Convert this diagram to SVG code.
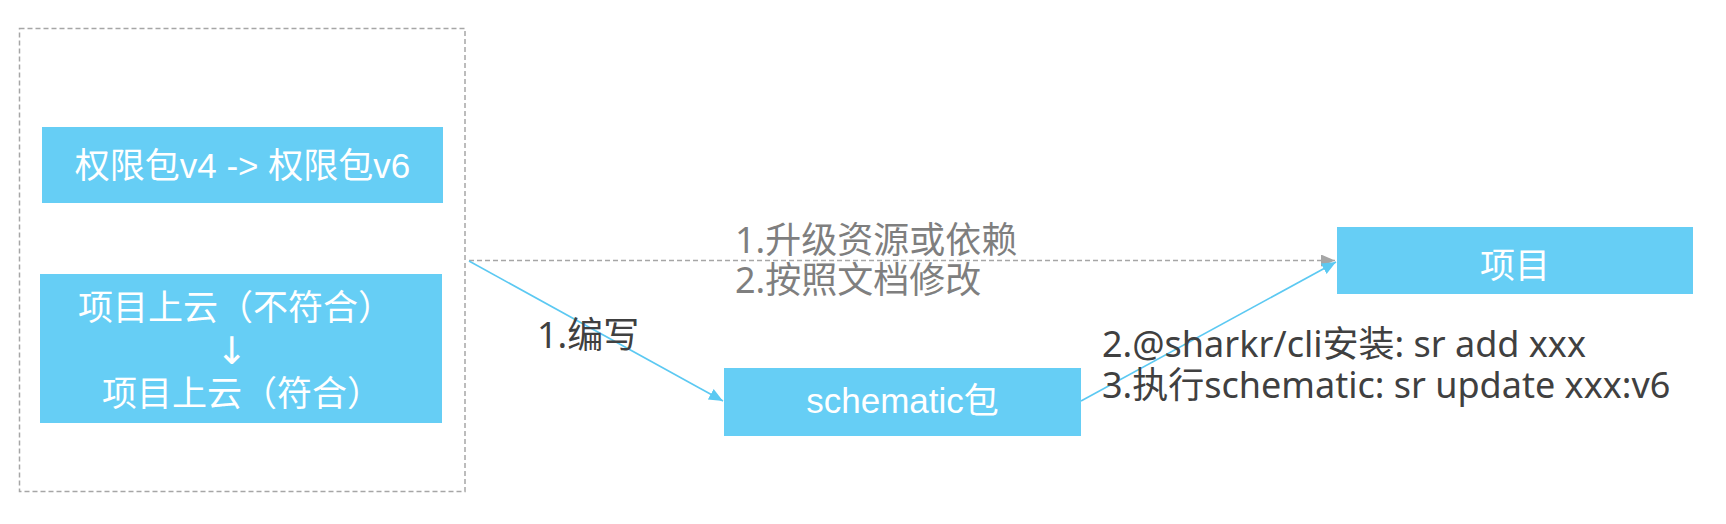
<svg xmlns="http://www.w3.org/2000/svg" width="1726" height="524" viewBox="0 0 1726 524">
  <style>
    .node { fill: #66CEF5; }
    .ntext { fill: #ffffff; font-family: "Liberation Sans", "Noto Sans CJK SC", sans-serif; font-size: 35px; }
    .label { font-family: "Noto Sans", "Noto Sans CJK SC", sans-serif; font-size: 36px; }
    .dark { fill: #404040; }
    .grey { fill: #7F7F7F; }
    .frame { fill: none; stroke: #A6A6A6; stroke-width: 1.5; stroke-dasharray: 5 3; }
    .blue { fill: none; stroke: #5CC9F2; stroke-width: 1.6; }
    .dash { fill: none; stroke: #A6A6A6; stroke-width: 1.5; stroke-dasharray: 5 3; }
  </style>
  <defs>
    <marker id="ab" markerUnits="userSpaceOnUse" markerWidth="16" markerHeight="14" refX="14" refY="6" orient="auto">
      <path d="M0,0 L14,6 L0,12 Z" fill="#5CC9F2"/>
    </marker>
    <marker id="ag" markerUnits="userSpaceOnUse" markerWidth="16" markerHeight="14" refX="14" refY="6" orient="auto">
      <path d="M0,0 L14,6 L0,12 Z" fill="#A6A6A6"/>
    </marker>
  </defs>

  <g id="frame">
    <rect class="frame" x="19.5" y="28.5" width="445.5" height="463"/>
  </g>

  <g id="connectors">
    <line class="dash" x1="469" y1="260.5" x2="1335" y2="260.5" marker-end="url(#ag)"/>
    <line class="blue" x1="469" y1="261" x2="723" y2="401" marker-end="url(#ab)"/>
    <line class="blue" x1="1081" y1="401" x2="1336" y2="262" marker-end="url(#ab)"/>
  </g>

  <g id="node-perm">
    <rect class="node" x="42" y="127" width="401" height="76"/>
    <text class="ntext" x="242.5" y="178" text-anchor="middle">权限包v4 -&gt; 权限包v6</text>
  </g>

  <g id="node-cloud">
    <rect class="node" x="40" y="274" width="402" height="149"/>
    <text class="ntext" x="78" y="320">项目上云（不符合）</text>
    <text x="232" y="364" text-anchor="middle" fill="#ffffff" font-family="DejaVu Sans, sans-serif" font-size="38">↓</text>
    <text class="ntext" x="102" y="406">项目上云（符合）</text>
  </g>

  <g id="node-schematic">
    <rect class="node" x="724" y="368" width="357" height="68"/>
    <text class="ntext" x="902.5" y="413" text-anchor="middle">schematic包</text>
  </g>

  <g id="node-project">
    <rect class="node" x="1337" y="227" width="356" height="67"/>
    <text class="ntext" x="1515" y="278" text-anchor="middle">项目</text>
  </g>

  <g id="labels">
    <text class="label grey" x="735" y="253">1.升级资源或依赖</text>
    <text class="label grey" x="735" y="293">2.按照文档修改</text>
    <text class="label dark" x="537" y="348">1.编写</text>
    <text class="label dark" x="1102" y="357">2.@sharkr/cli安装: sr add xxx</text>
    <text class="label dark" x="1102" y="398">3.执行schematic: sr update xxx:v6</text>
  </g>
</svg>
